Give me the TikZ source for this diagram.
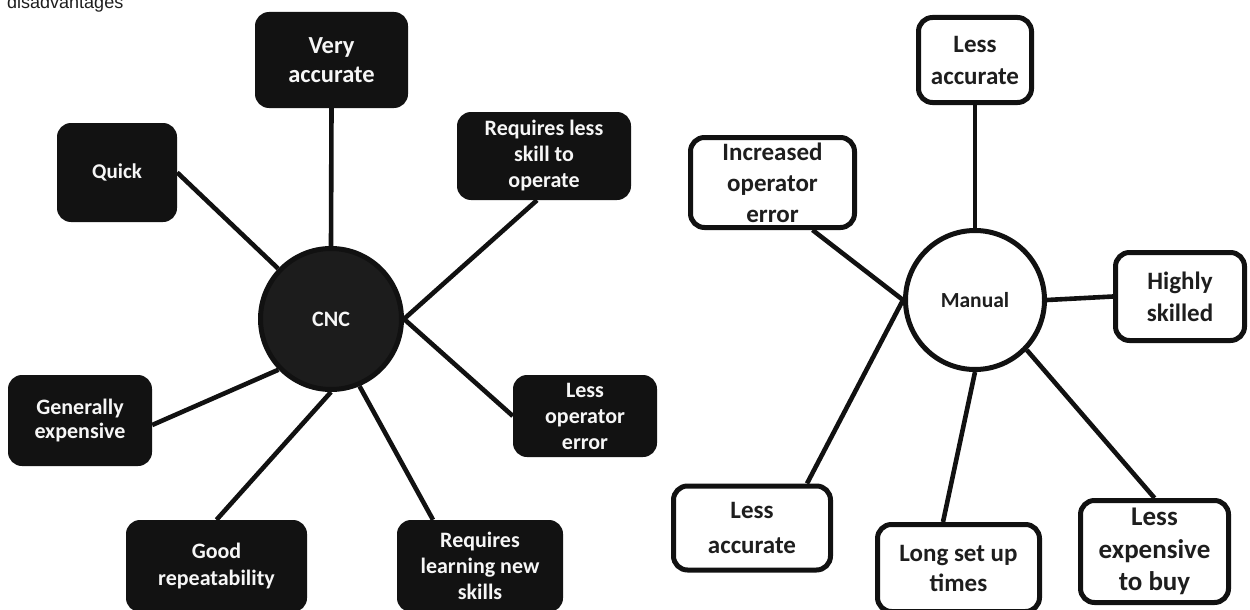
\documentclass[tikz,border=0pt]{standalone}
\usepackage{fontspec}
\setmainfont{Carlito}
\newfontfamily\captionsans{Liberation Sans}
\usetikzlibrary{backgrounds}

\definecolor{ink}{HTML}{111111}
\definecolor{boxfill}{HTML}{121212}
\definecolor{hubfill}{HTML}{1C1C1C}
\definecolor{textdark}{HTML}{1E1E1E}
\definecolor{textlight}{HTML}{F6F6F6}

\newcommand{\sz}[2]{\fontsize{#1}{#2}\selectfont\bfseries}

\begin{document}
\begin{tikzpicture}[x=1pt,y=-1pt,
  darkbox/.style={rectangle, rounded corners=14pt, fill=boxfill, draw=none,
    text=textlight, align=center, inner sep=0pt},
  lightbox/.style={rectangle, rounded corners=14pt, fill=white, draw=ink,
    line width=5pt, text=textdark, align=center, inner sep=0pt},
  darkhub/.style={circle, fill=hubfill, draw=ink, line width=5pt,
    text=textlight, inner sep=0pt},
  lighthub/.style={circle, fill=white, draw=ink, line width=5pt,
    text=textdark, inner sep=0pt},
  spoke/.style={draw=ink, line width=4.6pt}]

\useasboundingbox (0,0) rectangle (1250,610);

% heading fragment, running off the top edge
\node[anchor=base west, inner sep=0pt, text=textdark,
  font={\captionsans\fontsize{18}{20}\selectfont}] (heading) at (7,9) {disadvantages};

% ---- CNC cluster ----
\node[darkhub, minimum size=141pt, font=\sz{22}{26}] (cnc) at (331,319) {CNC};

\node[darkbox, minimum width=153pt, minimum height=96pt, font=\sz{24.5}{29}]
  (va) at (331.5,60) {Very\\accurate};
\node[darkbox, minimum width=120pt, minimum height=99pt, font=\sz{21}{25}]
  (quick) at (117,172.5) {Quick};
\node[darkbox, minimum width=174pt, minimum height=88pt, font=\sz{22}{26}]
  (rls) at (544,156) {Requires less\\skill to\\operate};
\node[darkbox, minimum width=144pt, minimum height=82pt, font=\sz{22}{26}]
  (loe) at (585,416) {Less\\operator\\error};
\node[darkbox, minimum width=144pt, minimum height=91pt, font=\sz{22}{24}]
  (ge) at (80,420.5) {Generally\\expensive};
\node[darkbox, minimum width=181pt, minimum height=92pt, font=\sz{22}{27}]
  (gr) at (216.5,566) {Good\\repeatability};
\node[darkbox, minimum width=166pt, minimum height=92pt, font=\sz{22}{26}]
  (rlns) at (480,566) {Requires\\learning new\\skills};

% ---- Manual cluster ----
\node[lighthub, minimum size=139pt, font=\sz{21.5}{25}] (man) at (975,300) {Manual};

\node[lightbox, minimum width=113pt, minimum height=85pt, font=\sz{25}{32}]
  (tla) at (975,60) {Less\\accurate};
\node[lightbox, minimum width=164pt, minimum height=90pt, font=\sz{25}{31}]
  (ioe) at (772.5,182.5) {Increased\\operator\\error};
\node[lightbox, minimum width=129pt, minimum height=88pt, font=\sz{25}{32}]
  (hs) at (1180,296.5) {Highly\\skilled};
\node[lightbox, minimum width=157pt, minimum height=84pt, font=\sz{25}{35}]
  (bla) at (752,528) {Less\\accurate};
\node[lightbox, minimum width=162pt, minimum height=87pt, font=\sz{25}{30}]
  (lsut) at (958.5,568) {Long set up\\times};
\node[lightbox, minimum width=148pt, minimum height=102pt, font=\sz{27}{32.5}]
  (leb) at (1154.5,551.5) {Less\\expensive\\to buy};

% ---- spokes, behind the boxes ----
\begin{scope}[on background layer]
  \draw[spoke] (va.south) -- (cnc.north);
  \draw[spoke] (quick.east) -- (cnc);
  \draw[spoke] (cnc.east) -- ([xshift=-7pt]rls.south);
  \draw[spoke] (cnc.east) -- (loe.west);
  \draw[spoke] ([yshift=-4.5pt]ge.east) -- (cnc.224);
  \draw[spoke] (gr.north) -- (cnc.south);
  \draw[spoke] ([xshift=-47pt]rlns.north) -- (cnc.293);

  \draw[spoke] (tla.south) -- (man.north);
  \draw[spoke] ([xshift=40pt]ioe.south) -- (man.west);
  \draw[spoke] (man.east) -- (hs.west);
  \draw[spoke] (man.west) -- ([xshift=55pt]bla.north);
  \draw[spoke] (man.south) -- ([xshift=-15.5pt]lsut.north);
  \draw[spoke] (man.316) -- (leb.north);
\end{scope}

\end{tikzpicture}
\end{document}
